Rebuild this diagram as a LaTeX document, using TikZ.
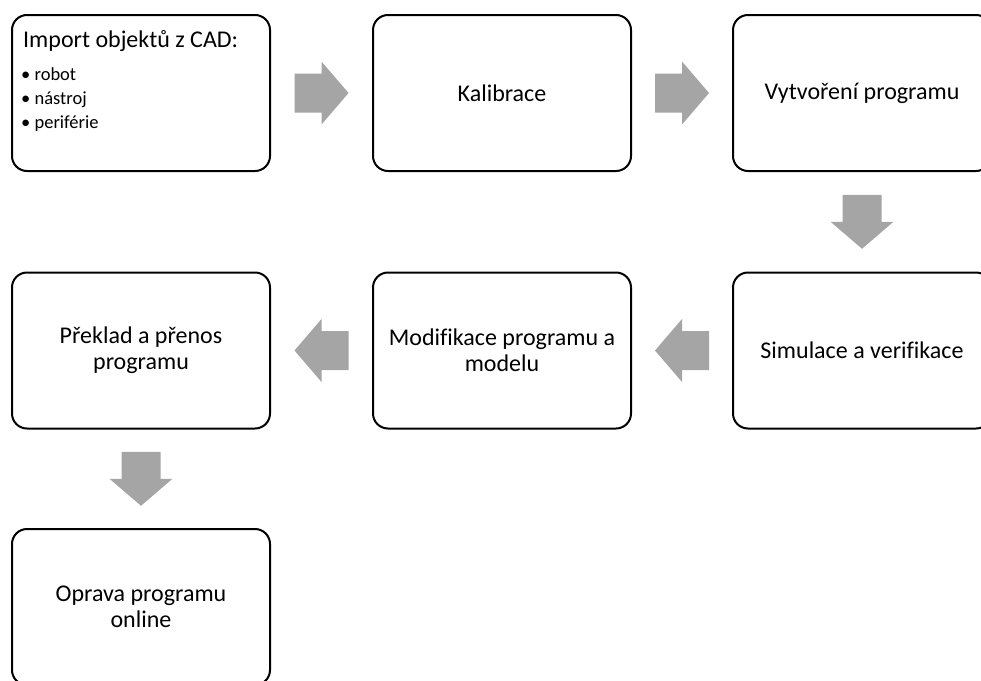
\documentclass[tikz,border=0pt]{standalone}
\usepackage{fontspec}
\setmainfont{Carlito}[Ligatures={NoCommon}]
\usetikzlibrary{calc}
\definecolor{arrowgray}{HTML}{A5A5A5}
\tikzset{
  stepbox/.style={draw=black, line width=2pt, rounded corners=15pt, fill=white,
    minimum width=258pt, minimum height=156pt, inner sep=0pt,
    align=center, font=\fontsize{24}{26}\selectfont},
  titletext/.style={anchor=base west, inner sep=0pt, font=\fontsize{24}{28}\selectfont},
  bullettext/.style={anchor=base west, inner sep=0pt, font=\fontsize{18.5}{22}\selectfont},
  blockarrow/.pic={\fill[arrowgray] (-27,-19.5) -- (0,-19.5) -- (0,-31.5) -- (27,0)
     -- (0,31.5) -- (0,19.5) -- (-27,19.5) -- cycle;}
}
\begin{document}
\begin{tikzpicture}[x=1pt,y=-1pt]
\useasboundingbox (0,0) rectangle (981,680);
\clip (0,0) rectangle (981,680);
% boxes
\node[stepbox] (b1) at (141,93) {};
\node[stepbox] (b2) at (502,93) {Kalibrace};
\node[stepbox] (b3) at (862,93) {Vytvoření programu};
\node[stepbox] (b4) at (862,350.5) {Simulace a verifikace};
\node[stepbox] (b5) at (502,350.5) {Modifikace programu a\\modelu};
\node[stepbox] (b6) at (141,350.5) {Překlad a přenos\\programu};
\node[stepbox] (b7) at (141,607) {Oprava programu\\online};
% text of first box
\node[titletext] (t1) at (23,47) {Import objektů z CAD:};
\node[bullettext] (t2) at (21,80) {• robot};
\node[bullettext] (t3) at (21,104) {• nástroj};
\node[bullettext] (t4) at (21,128) {• periférie};
% block arrows
\pic at ($(b1.east)!0.5!(b2.west)$) {blockarrow};
\pic at ($(b2.east)!0.5!(b3.west)$) {blockarrow};
\pic[rotate=-90] at ($(b3.south)!0.5!(b4.north)$) {blockarrow};
\pic[rotate=180] at ($(b4.west)!0.5!(b5.east)$) {blockarrow};
\pic[rotate=180] at ($(b5.west)!0.5!(b6.east)$) {blockarrow};
\pic[rotate=-90] at ($(b6.south)!0.5!(b7.north)$) {blockarrow};
\end{tikzpicture}
\end{document}
